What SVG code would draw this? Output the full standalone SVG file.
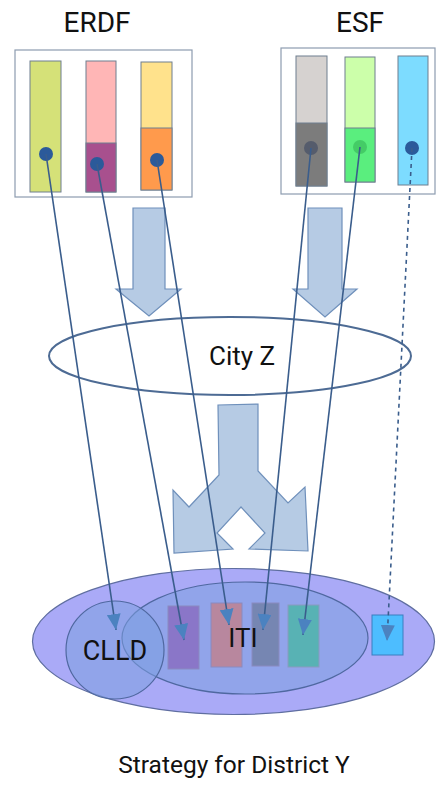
<svg xmlns="http://www.w3.org/2000/svg" width="436" height="786" viewBox="0 0 436 786">
<style>
text{font-family:Roboto,"Liberation Sans",sans-serif;fill:#111}
.box{fill:#fff;stroke:#8d9cb0;stroke-width:1.2}
.bar{stroke:#6f7f8f;stroke-width:1}
.dot{stroke:none}
.big{fill:#b6cbe4;stroke:#6f90bb;stroke-width:1.2}
.conn{stroke:#3a5d8c;stroke-width:1.6;fill:none}
.dash{stroke-dasharray:4 4}
</style>
<defs>
<marker id="ah" markerUnits="userSpaceOnUse" viewBox="0 0 16 14" refX="16" refY="7" markerWidth="16" markerHeight="14" orient="auto">
<path d="M0,0 L16,7 L0,14 Z" fill="#4b82c0"/>
</marker>
</defs>
<rect width="436" height="786" fill="#fff"/>

<g id="erdf">
<text x="97" y="32" font-size="28" text-anchor="middle">ERDF</text>
<rect class="box" x="15" y="50" width="177" height="147"/>
<rect class="bar" x="30" y="61" width="31" height="131" fill="#d5e178"/>
<rect class="bar" x="86" y="61" width="30" height="131" fill="#ffb6b6"/>
<rect class="bar" x="86" y="143" width="30" height="49" fill="#a8508e"/>
<rect class="bar" x="141" y="62" width="31" height="128" fill="#ffe28c"/>
<rect class="bar" x="141" y="128" width="31" height="62" fill="#ff9a4c"/>
<circle class="dot" cx="46" cy="154" r="7" fill="#2b5a9a"/>
<circle class="dot" cx="97" cy="164" r="7" fill="#2b5a9a"/>
<circle class="dot" cx="157" cy="160" r="7" fill="#2b5a9a"/>
</g>

<g id="esf">
<text x="360" y="32" font-size="28" text-anchor="middle">ESF</text>
<rect class="box" x="281" y="48" width="154" height="146"/>
<rect class="bar" x="296" y="56" width="31" height="130" fill="#d6d2d0"/>
<rect class="bar" x="296" y="123" width="31" height="63" fill="#7c7c7c"/>
<rect class="bar" x="345" y="57" width="30" height="125" fill="#ccffaa"/>
<rect class="bar" x="345" y="128" width="30" height="54" fill="#5aee7e"/>
<rect class="bar" x="398" y="56" width="30" height="129" fill="#7ddcff"/>
<circle class="dot" cx="311" cy="148" r="7" fill="#555c6c"/>
<circle class="dot" cx="360" cy="147" r="7" fill="#44cc66"/>
<circle class="dot" cx="412" cy="148" r="7" fill="#2b5a9a"/>
</g>

<g id="arrow-left">
<polygon class="big" points="133,208 165,208 165,289 181,289 149,316 116,289 133,289"/>
</g>
<g id="arrow-right">
<polygon class="big" points="308,208 342,208 342,289 357,289 325,317 293,289 308,289"/>
</g>

<g id="cityz">
<ellipse cx="230" cy="356" rx="181" ry="39" fill="none" stroke="#4d6b94" stroke-width="2"/>
<text x="242" y="365" font-size="26" text-anchor="middle">City Z</text>
</g>

<g id="fork-arrow">
<polygon class="big" points="218,405 258,404 258,471 288,503 305,487 308,551 249,549 265,533 241,507 217,533 233,549 174,553 173,490 189,507 219,475"/>
</g>

<g id="district">
<ellipse cx="233.5" cy="641.5" rx="201" ry="73" fill="#aaaaf7" stroke="#5f6ea0" stroke-width="1.2"/>
</g>
<g id="iti">
<ellipse cx="245" cy="638" rx="123" ry="56" fill="#7c9ee0" fill-opacity="0.55" stroke="#4f68a0" stroke-width="1.2"/>
</g>
<g id="clld">
<circle cx="115" cy="650" r="49" fill="#7c9ee0" fill-opacity="0.55" stroke="#4f68a0" stroke-width="1.2"/>
<text x="115" y="660" font-size="27" text-anchor="middle">CLLD</text>
</g>
<g id="measures">
<rect x="168" y="606" width="31" height="63" fill="#8a76c8" stroke="#8a8ac0" stroke-width="1"/>
<rect x="211" y="603" width="31" height="64" fill="#b8879e" stroke="#8a8ac0" stroke-width="1"/>
<rect x="252" y="603" width="27" height="63" fill="#7686b2" stroke="#8a8ac0" stroke-width="1"/>
<rect x="288" y="605" width="31" height="62" fill="#58b2b4" stroke="#8a9ac0" stroke-width="1"/>
<rect x="372" y="615" width="31" height="40" fill="#4dbdff" stroke="#3a7ec0" stroke-width="1"/>
<text x="243" y="647" font-size="26" text-anchor="middle">ITI</text>
</g>

<g id="connectors">
<line class="conn" x1="46" y1="154" x2="116" y2="630" marker-end="url(#ah)"/>
<line class="conn" x1="97" y1="164" x2="184" y2="640" marker-end="url(#ah)"/>
<line class="conn" x1="157" y1="160" x2="229" y2="625" marker-end="url(#ah)"/>
<line class="conn" x1="311" y1="148" x2="263" y2="630" marker-end="url(#ah)"/>
<line class="conn" x1="360" y1="147" x2="303" y2="635" marker-end="url(#ah)"/>
<line class="conn dash" x1="412" y1="148" x2="387" y2="641" marker-end="url(#ah)"/>
</g>

<text x="234" y="773" font-size="24.5" text-anchor="middle">Strategy for District Y</text>
</svg>
